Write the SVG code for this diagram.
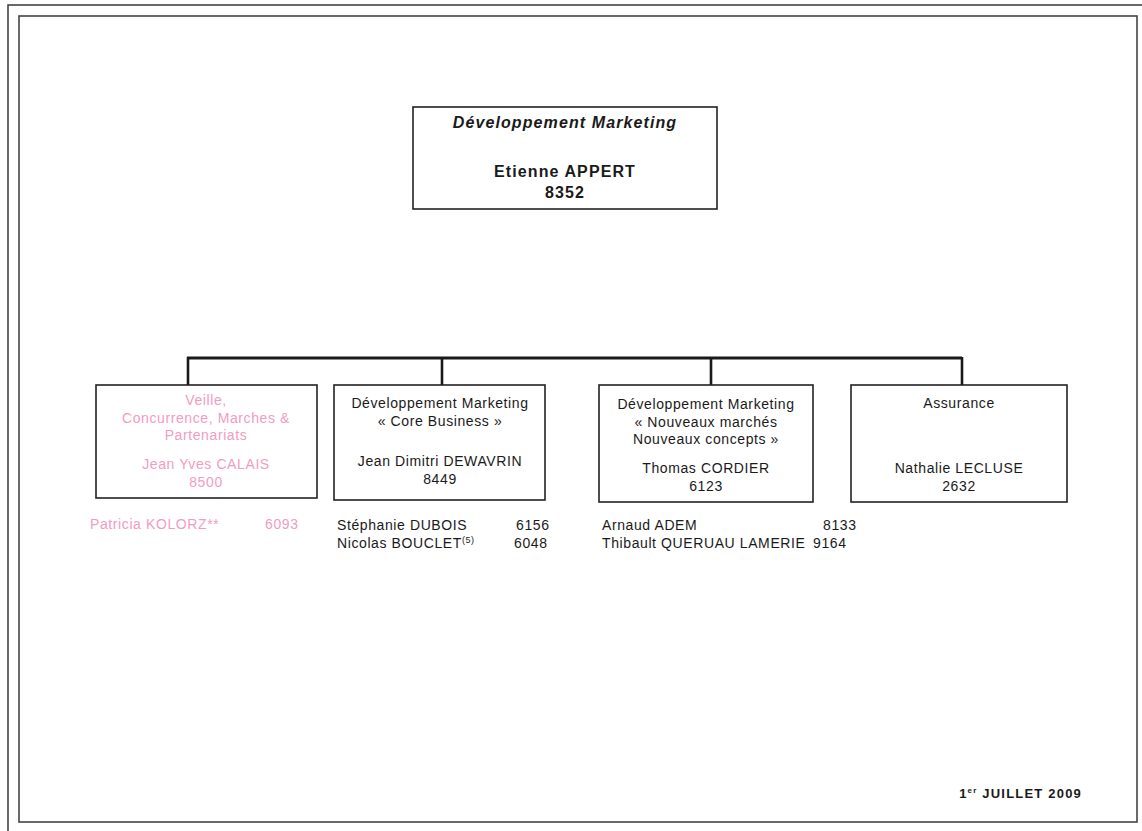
<svg xmlns="http://www.w3.org/2000/svg" width="1142" height="831" viewBox="0 0 1142 831">
<style>
.box{fill:#fff;stroke:#222;stroke-width:1.6}
.frame{fill:none;stroke:#444;stroke-width:1.6}
.t{font-family:"Liberation Sans",Arial,sans-serif;font-size:14px;fill:#1a1a1a;letter-spacing:0.6px}
.c{text-anchor:middle}
.p{fill:#f19cc2}
.h{font-family:"Liberation Sans",Arial,sans-serif;font-size:16px;font-weight:bold;fill:#1a1a1a;letter-spacing:1.1px;text-anchor:middle}
.conn{stroke:#1a1a1a;fill:none}
</style>
<rect class="frame" x="8" y="5" width="1145" height="840"/>
<rect class="frame" x="19" y="16" width="1118" height="806"/>
<g id="connectors">
<line class="conn" x1="187" y1="358" x2="962" y2="358" stroke-width="3"/>
<line class="conn" x1="188" y1="357" x2="188" y2="385" stroke-width="2.6"/>
<line class="conn" x1="442" y1="357" x2="442" y2="385" stroke-width="2.6"/>
<line class="conn" x1="711" y1="357" x2="711" y2="385" stroke-width="2.6"/>
<line class="conn" x1="962" y1="357" x2="962" y2="385" stroke-width="2.6"/>
</g>
<g id="node-top">
<rect class="box" x="413" y="107" width="304" height="102"/>
<text class="h" x="565" y="128" font-style="italic">Développement Marketing</text>
<text class="h" x="565" y="177">Etienne APPERT</text>
<text class="h" x="565" y="198">8352</text>
</g>
<g id="node-veille">
<rect class="box" x="96" y="385" width="221" height="113"/>
<text class="t c p" x="206" y="405">Veille,</text>
<text class="t c p" x="206" y="423">Concurrence, Marches &amp;</text>
<text class="t c p" x="206" y="440">Partenariats</text>
<text class="t c p" x="206" y="469">Jean Yves CALAIS</text>
<text class="t c p" x="206" y="487">8500</text>
<text class="t p" x="90" y="529">Patricia KOLORZ**</text>
<text class="t p" x="265" y="529">6093</text>
</g>
<g id="node-core">
<rect class="box" x="334" y="385" width="211" height="115"/>
<text class="t c" x="440" y="408">Développement Marketing</text>
<text class="t c" x="440" y="426">« Core Business »</text>
<text class="t c" x="440" y="466">Jean Dimitri DEWAVRIN</text>
<text class="t c" x="440" y="484">8449</text>
<text class="t" x="337" y="530">Stéphanie DUBOIS</text>
<text class="t" x="516" y="530">6156</text>
<text class="t" x="337" y="548">Nicolas BOUCLET<tspan font-size="9" dy="-5">(5)</tspan></text>
<text class="t" x="514" y="548">6048</text>
</g>
<g id="node-nouveaux">
<rect class="box" x="599" y="385" width="214" height="117"/>
<text class="t c" x="706" y="409">Développement Marketing</text>
<text class="t c" x="706" y="427">« Nouveaux marchés</text>
<text class="t c" x="706" y="444">Nouveaux concepts »</text>
<text class="t c" x="706" y="473">Thomas CORDIER</text>
<text class="t c" x="706" y="491">6123</text>
<text class="t" x="602" y="530">Arnaud ADEM</text>
<text class="t" x="823" y="530">8133</text>
<text class="t" x="602" y="548">Thibault QUERUAU LAMERIE</text>
<text class="t" x="813" y="548">9164</text>
</g>
<g id="node-assurance">
<rect class="box" x="851" y="385" width="216" height="117"/>
<text class="t c" x="959" y="408">Assurance</text>
<text class="t c" x="959" y="473">Nathalie LECLUSE</text>
<text class="t c" x="959" y="491">2632</text>
</g>
<text x="1082" y="798" text-anchor="end" font-family="Liberation Sans, Arial, sans-serif" font-size="13" font-weight="bold" fill="#1a1a1a" letter-spacing="1.2">1<tspan font-size="8" dy="-5">er</tspan><tspan dy="5"> JUILLET 2009</tspan></text>
</svg>
